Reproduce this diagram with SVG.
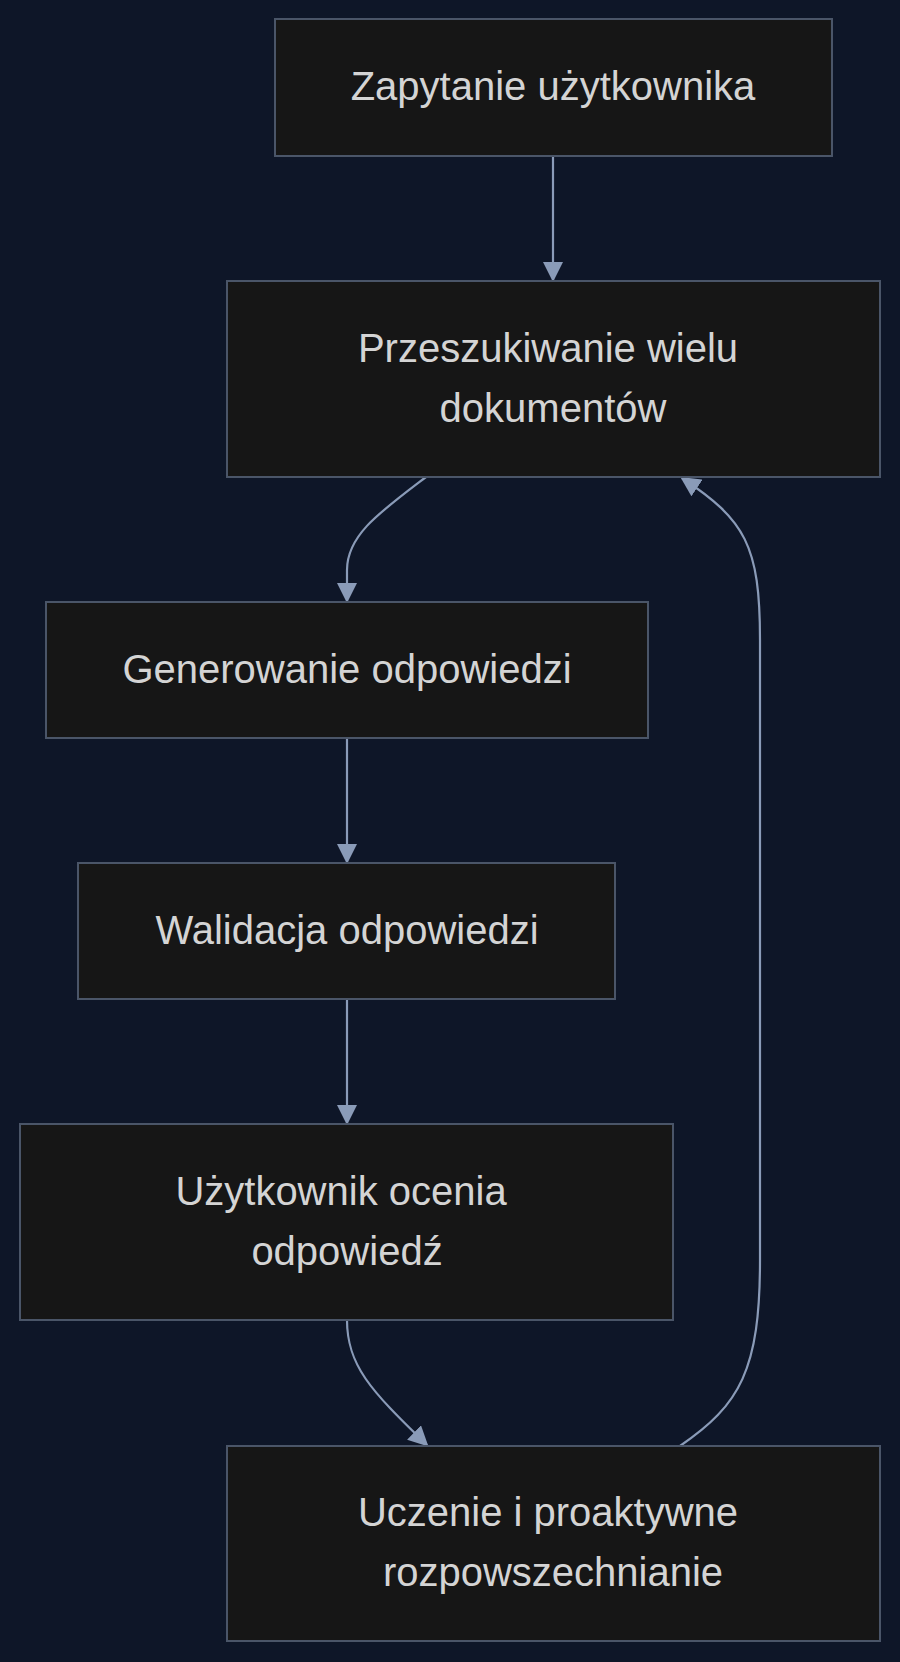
<svg xmlns="http://www.w3.org/2000/svg" width="900" height="1662" viewBox="0 0 900 1662">
<defs>
<style>
.n rect{fill:#161616;stroke:#4a5568;stroke-width:2}
.n text{font-family:"Liberation Sans",Arial,sans-serif;font-size:40px;fill:#d4d4d4;text-anchor:middle}
.e path{fill:none;stroke:#8a9bb8;stroke-width:2.2;marker-end:url(#a)}
</style>
<marker id="a" viewBox="0 0 10 10" refX="9" refY="5" markerWidth="20" markerHeight="20" markerUnits="userSpaceOnUse" orient="auto"><path d="M0,0L10,5L0,10z" fill="#8a9bb8"/></marker>
</defs>
<rect width="900" height="1662" fill="#0e1628"/>
<g class="e">
<path d="M553,156V280"/>
<path d="M426,477C380,512 347,535 347,570V601"/>
<path d="M347,738V862"/>
<path d="M347,999V1123"/>
<path d="M347,1320C347,1365 370,1390 427,1445"/>
<path d="M680,1446C740,1405 760,1370 760,1260V640C760,545 745,520 682,478"/>
</g>
<g id="n1" class="n"><rect x="275" y="19" width="557" height="137"/><text x="553" y="100">Zapytanie użytkownika</text></g>
<g id="n2" class="n"><rect x="227" y="281" width="653" height="196"/><text x="548" y="362">Przeszukiwanie wielu</text><text x="553" y="422">dokumentów</text></g>
<g id="n3" class="n"><rect x="46" y="602" width="602" height="136"/><text x="347" y="683">Generowanie odpowiedzi</text></g>
<g id="n4" class="n"><rect x="78" y="863" width="537" height="136"/><text x="347" y="944">Walidacja odpowiedzi</text></g>
<g id="n5" class="n"><rect x="20" y="1124" width="653" height="196"/><text x="341" y="1205">Użytkownik ocenia</text><text x="347" y="1265">odpowiedź</text></g>
<g id="n6" class="n"><rect x="227" y="1446" width="653" height="195"/><text x="548" y="1526">Uczenie i proaktywne</text><text x="553" y="1586">rozpowszechnianie</text></g>
</svg>
